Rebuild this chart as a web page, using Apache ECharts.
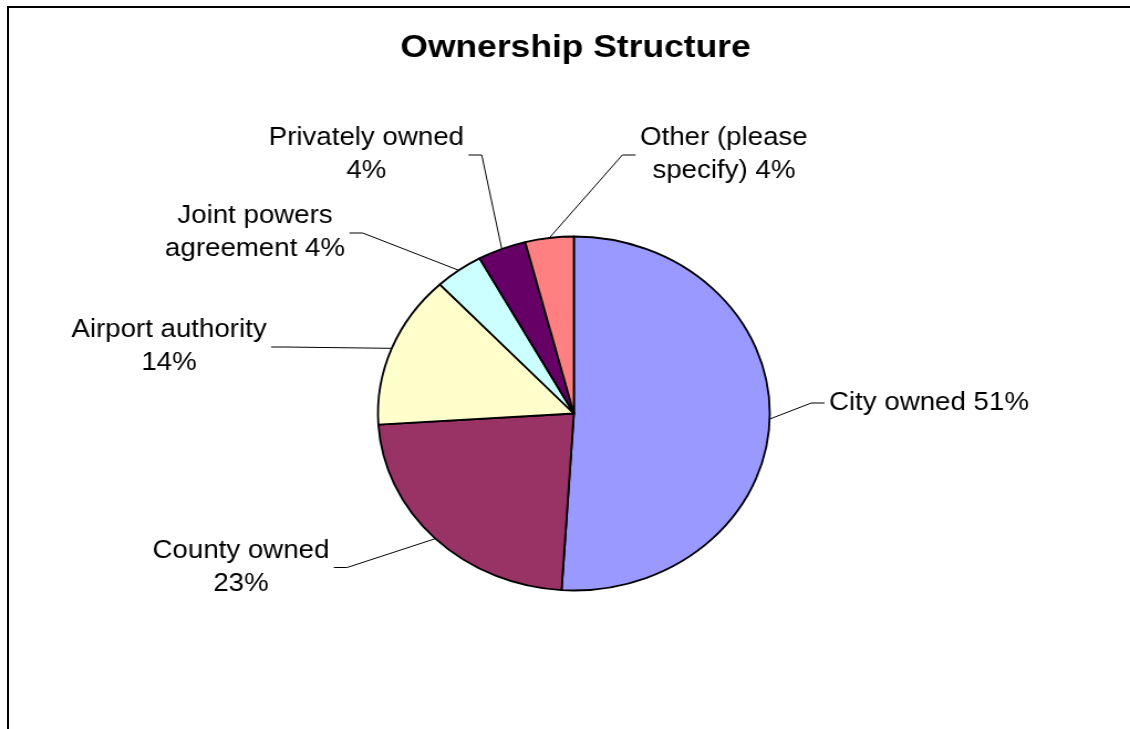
<!DOCTYPE html>
<html>
<head>
<meta charset="utf-8">
<title>Ownership Structure</title>
<script src="https://cdn.jsdelivr.net/npm/echarts@6/dist/echarts.min.js"></script>
<style>
  html, body { margin: 0; padding: 0; background: #fff; width: 1130px; height: 729px; overflow: hidden; }
  /* The chart is laid out on a narrower canvas and widened, which gives the oval pie and wide lettering */
  #chart { position: absolute; left: 0; top: 0; width: 1021px; height: 729px; transform: scaleX(1.1068); transform-origin: 0 0; }
  #frame { position: absolute; left: 7px; top: 6px; right: -20px; bottom: -20px; border-left: 2px solid #000; border-top: 2px solid #000; pointer-events: none; }
</style>
</head>
<body>
<div id="chart"></div>
<div id="frame"></div>
<script>
// Ownership categories and their share of respondents (percent)
const categories = ['City owned', 'County owned', 'Airport authority', 'Joint powers agreement', 'Privately owned', 'Other (please specify)'];
const shares = [51, 23, 14, 4, 4, 4];
// First line of each wrapped label (null = single line)
const wrapHead = [null, 'County owned', 'Airport authority', 'Joint powers', 'Privately owned', 'Other (please'];
const sliceColors = ['#9999FF', '#993366', '#FFFFCC', '#CCFFFF', '#660066', '#FF8080'];

// Where each label sits on the chart canvas
const labelSpots = [
  { x: 749, y: 403, align: 'left' },
  { x: 217.7, y: 567.5, align: 'center' },
  { x: 152.7, y: 347, align: 'center' },
  { x: 230.4, y: 233, align: 'center' },
  { x: 331, y: 155, align: 'center' },
  { x: 654, y: 155, align: 'center' }
];

const FONT = "'Liberation Sans', Arial, sans-serif";
const CENTER = [518.5, 413.5];
const GAP = 4, STUB = 12;

const chart = echarts.init(document.getElementById('chart'), null, { renderer: 'canvas' });

chart.setOption({
  animation: false,
  backgroundColor: 'transparent',
  graphic: [{
    type: 'text',
    x: 520, y: 48,
    style: {
      text: 'Ownership Structure',
      font: "bold 32px " + FONT,
      fill: '#000',
      align: 'center',
      verticalAlign: 'middle'
    }
  }],
  series: [{
    type: 'pie',
    center: CENTER,
    radius: 177,
    startAngle: 90,
    clockwise: true,
    avoidLabelOverlap: false,
    silent: true,
    emphasis: { disabled: true },
    data: categories.map((name, i) => ({ name, value: shares[i], itemStyle: { color: sliceColors[i] } })),
    itemStyle: { borderColor: '#000', borderWidth: 1.8 },
    label: {
      show: true,
      position: 'outer',
      fontFamily: FONT,
      fontSize: 25,
      lineHeight: 33,
      color: '#000',
      formatter: p => {
        const full = p.name + ' ' + p.value + '%';
        const head = wrapHead[p.dataIndex];
        return head ? head + '\n' + full.slice(head.length + 1) : full;
      }
    },
    labelLine: { show: true, length: 20, length2: 12, lineStyle: { color: '#000', width: 1 } },
    labelLayout: params => {
      const spot = labelSpots[params.dataIndex];
      const w = params.labelRect.width;
      const left = spot.align === 'left' ? spot.x : spot.x - w / 2;
      const right = left + w;
      const start = params.labelLinePoints[0];
      const onLeft = spot.x < CENTER[0];
      const endX = onLeft ? right + GAP : left - GAP;
      const bendX = onLeft ? endX + STUB : endX - STUB;
      return {
        x: spot.x,
        y: spot.y,
        align: spot.align,
        verticalAlign: 'middle',
        labelLinePoints: [start, [bendX, spot.y], [endX, spot.y]]
      };
    }
  }]
});
</script>
</body>
</html>
